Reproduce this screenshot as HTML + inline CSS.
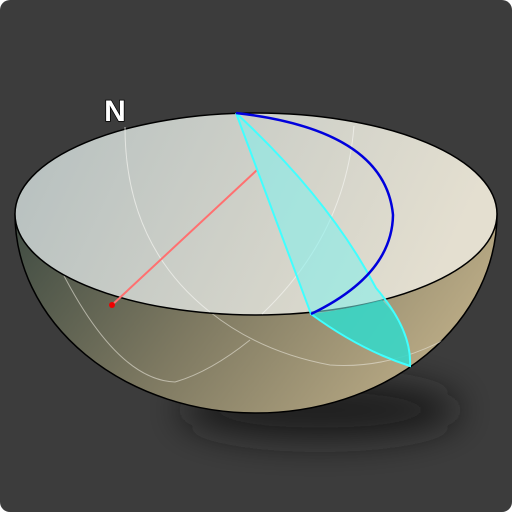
<!DOCTYPE html>
<html><head><style>html,body{margin:0;padding:0;background:#fff}svg{display:block}</style></head>
<body>
<svg width="512" height="512" viewBox="0 0 512 512">
<defs>
<linearGradient id="top" x1="0" y1="0" x2="1" y2="0.2"><stop offset="0" stop-color="#b5bfbf"/><stop offset="1" stop-color="#e4dfd0"/></linearGradient>
<linearGradient id="side" x1="0" y1="0" x2="1" y2="0.3"><stop offset="0" stop-color="#3f4b42"/><stop offset="0.5" stop-color="#7f7a62"/><stop offset="1" stop-color="#b8a984"/></linearGradient>
<filter id="blur" x="-50%" y="-200%" width="200%" height="500%"><feGaussianBlur stdDeviation="18"/></filter>
<clipPath id="bowl"><path d="M15,214 A241,199 0 0 0 497,214 Z"/></clipPath>
</defs>
<rect x="0" y="0" width="512" height="512" rx="10" fill="#3c3c3c"/>
<ellipse cx="320" cy="410" rx="140" ry="30" fill="#151515" fill-opacity="0.85" filter="url(#blur)"/>
<path d="M15,214 A241,199 0 0 0 497,214 Z" fill="url(#side)" stroke="#000" stroke-width="1.5"/>
<g clip-path="url(#bowl)" fill="none" stroke="#e8e4d8" stroke-opacity="0.6" stroke-width="1">
<path d="M210,312 Q260,352 330,365 Q400,370 470,325"/>
<path d="M250,340 Q210,372 175,382 Q115,380 57,262"/>
</g>
<ellipse cx="256" cy="214" rx="241" ry="101" fill="url(#top)" stroke="#000" stroke-width="1.5"/>
<g fill="none" stroke="#f4f4f0" stroke-opacity="0.7" stroke-width="1">
<path d="M125,127 Q125,245 210,312"/>
<path d="M354,126 Q345,235 262,314"/>
</g>
<line x1="257" y1="170" x2="112" y2="305" stroke="#ff7070" stroke-width="2"/>
<circle cx="112" cy="305" r="3" fill="#e00"/>
<path d="M236,113 L311,314 Q360,350 410,366 Q412,330 376,288 Q330,200 236,113 Z" fill="#7ff0ec" fill-opacity="0.55"/>
<path d="M311,314 Q360,350 410,366 Q412,330 382,300 Q345,310 311,314 Z" fill="#2fd2c0" fill-opacity="0.8"/>
<path d="M236,113 L311,314 Q360,350 410,366 Q412,330 376,288 Q330,200 236,113" fill="none" stroke="#40ffff" stroke-width="2"/>
<path d="M236,113 Q385,130 393,215 Q392,275 311,314" fill="none" stroke="#0000dd" stroke-width="2.5"/>
<text x="115" y="121" font-family="Liberation Sans, sans-serif" font-weight="bold" font-size="30" fill="#fff" stroke="#000" stroke-width="1.5" paint-order="stroke" text-anchor="middle">N</text>
</svg>
</body></html>
